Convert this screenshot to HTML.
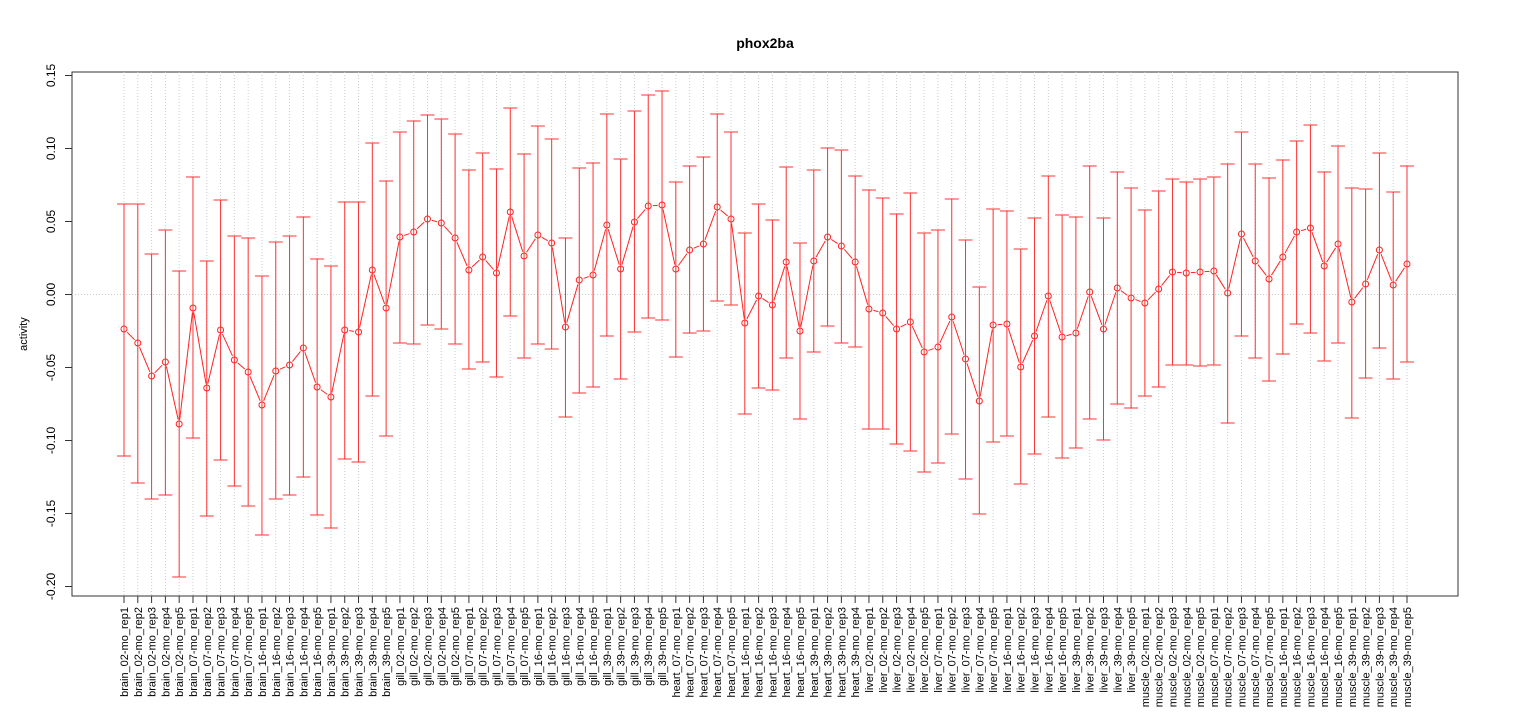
<!DOCTYPE html>
<html><head><meta charset="utf-8"><style>body{margin:0;background:#fff}svg{display:block}text{font-family:"Liberation Sans",sans-serif}</style></head>
<body>
<svg id="s" width="1530" height="720" xmlns="http://www.w3.org/2000/svg">
<rect width="1530" height="720" fill="#fff"/>
<text x="765" y="48" text-anchor="middle" font-size="14" font-weight="bold">phox2ba</text>
<rect x="72" y="72" width="1386" height="524" fill="none" stroke="#333" stroke-width="1"/>
<line x1="72" y1="294.5" x2="1458" y2="294.5" stroke="#ccc" stroke-dasharray="1,2"/>
<text transform="translate(27,334) rotate(-90)" text-anchor="middle" font-size="11">activity</text>
<g id="g"></g>
</svg>
<script>
var d=[[329,204,456],[343,204,483],[376,254,499],[362,230,495],[424,271,577],[308,177,438],[388,261,516],[330,200,460],[360,236,486],[372,238,506],[405,276,535],[371,242,499],[365,236,495],[348,217,477],[387,259,515],[397,266,528],[330,202,459],[332,202,462],[270,143,396],[308,181,436],[237,132,343],[232,121,344],[219,115,325],[223,119,329],[238,134,344],[270,170,369],[257,153,362],[273,169,377],[212,108,316],[256,154,358],[235,126,344],[243,139,349],[327,238,417],[280,168,393],[275,163,387],[225,114,336],[269,159,379],[222,111,332],[206,95,318],[205,91,320],[269,182,357],[250,166,333],[244,157,331],[207,114,301],[219,132,305],[323,233,414],[296,204,388],[305,220,390],[262,167,358],[331,243,419],[261,170,352],[237,148,326],[246,150,343],[262,176,347],[309,190,429],[313,198,429],[329,214,444],[322,193,451],[352,233,472],[347,230,463],[317,199,434],[359,240,479],[401,287,514],[325,209,442],[324,211,436],[367,249,484],[336,218,454],[296,176,417],[337,215,458],[333,217,448],[292,166,419],[329,218,440],[288,172,404],[298,188,408],[303,210,396],[289,191,387],[272,179,365],[273,182,365],[272,179,366],[271,177,365],[293,164,423],[234,132,336],[261,164,358],[279,178,381],[257,160,354],[232,141,324],[228,125,333],[266,172,361],[244,146,343],[302,188,418],[284,189,378],[250,153,348],[285,192,379],[264,166,362]];
var groups=[["brain",[5,5,5,5]],["gill",[5,5,5,5]],["heart",[5,5,4]],["liver",[5,5,5,5]],["muscle",[5,5,5,5]]];
var mos=["02","07","16","39"],labs=[];
groups.forEach(function(g){var m=g[0]==="heart"?["07","16","39"]:mos;g[1].forEach(function(n,k){for(var r=1;r<=n;r++)labs.push(g[0]+"_"+m[k]+"-mo_rep"+r);});});
var h="",X=function(i){return 124+i*(1407-124)/93;};
for(var i=0;i<94;i++){var x=X(i);h+='<line x1="'+x+'" y1="72" x2="'+x+'" y2="596" stroke="#ccc" stroke-dasharray="1,2"/>';}
for(i=0;i<94;i++){x=X(i);var v=d[i];
h+='<line x1="'+x+'" y1="'+v[1]+'" x2="'+x+'" y2="'+v[2]+'" stroke="#f33" stroke-width="1"/>';
h+='<line x1="'+(x-7)+'" y1="'+v[1]+'" x2="'+(x+7)+'" y2="'+v[1]+'" stroke="#f33"/>';
h+='<line x1="'+(x-7)+'" y1="'+v[2]+'" x2="'+(x+7)+'" y2="'+v[2]+'" stroke="#f33"/>';
h+='<circle cx="'+x+'" cy="'+v[0]+'" r="3" fill="none" stroke="#f22"/>';
if(i<93){var x2=X(i+1),y1=v[0],y2=d[i+1][0],dx=x2-x,dy=y2-y1,L=Math.sqrt(dx*dx+dy*dy);if(L>10){var ux=dx/L*4.5,uy=dy/L*4.5;h+='<line x1="'+(x+ux)+'" y1="'+(y1+uy)+'" x2="'+(x2-ux)+'" y2="'+(y2-uy)+'" stroke="#f22"/>';}}
h+='<line x1="'+x+'" y1="596" x2="'+x+'" y2="603" stroke="#333"/>';
h+='<text transform="translate('+(x+4)+',607) rotate(-90)" text-anchor="end" font-size="11">'+labs[i]+'</text>';}
var ticks=[0.15,0.10,0.05,0.00,-0.05,-0.10,-0.15,-0.20];
ticks.forEach(function(t){var y=294.5-t*1460;h+='<line x1="65" y1="'+y+'" x2="72" y2="'+y+'" stroke="#333"/>';h+='<text transform="translate(55,'+y+') rotate(-90)" text-anchor="middle" font-size="12">'+t.toFixed(2)+'</text>';});
document.getElementById("g").innerHTML=h;
</script>
</body></html>
